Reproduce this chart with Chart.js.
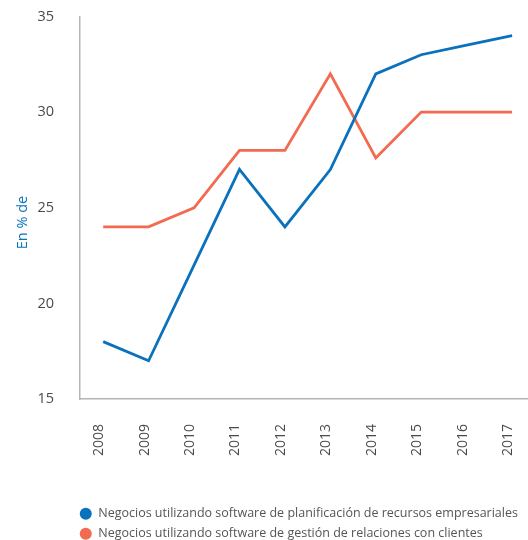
<!DOCTYPE html>
<html><head><meta charset="utf-8">
<script src="https://cdn.jsdelivr.net/npm/chart.js@4"></script>
<style>html,body{margin:0;padding:0;background:#fff}#wrap{width:528px;height:540px}</style>
</head><body><div id="wrap"><canvas id="c" width="528" height="540"></canvas></div>
<script>
const years = [2008, 2009, 2010, 2011, 2012, 2013, 2014, 2015, 2016, 2017];
const erpValues = [18, 17, 22, 27, 24, 27, 32, 33, 33.5, 34];
const crmValues = [24, 24, 25, 28, 28, 32, 27.6, 30, 30, 30];
const yTicks = [15, 20, 25, 30, 35];
const seriesNames = [
  'Negocios utilizando software de planificación de recursos empresariales',
  'Negocios utilizando software de gestión de relaciones con clientes'
];
const yTitle = 'En % de';
const BLUE = '#0a72bd', ORANGE = '#f26a50', AXIS = '#b5b5b5', TXT = '#4a4a4a';
const FONT = '"Open Sans", sans-serif';

const titlePlugin = {
  id: 'ytitle',
  afterLayout(chart) {
    const lg = chart.legend;
    lg.left = 72;
    lg.top += 10;
    lg.bottom += 10;
  },
  afterDraw(chart) {
    const ctx = chart.ctx;
    ctx.save();
    ctx.translate(23, 222.5);
    ctx.rotate(-Math.PI / 2);
    ctx.fillStyle = BLUE;
    ctx.font = '14.5px ' + FONT;
    ctx.textAlign = 'center';
    ctx.textBaseline = 'middle';
    ctx.fillText(yTitle, 0, 0);
    ctx.restore();
  }
};

new Chart(document.getElementById('c'), {
  type: 'line',
  data: {
    datasets: [
      { label: seriesNames[0], data: years.map((y, i) => ({x: y, y: erpValues[i]})),
        borderColor: BLUE, backgroundColor: BLUE, borderWidth: 2.8, pointRadius: 0, tension: 0 },
      { label: seriesNames[1], data: years.map((y, i) => ({x: y, y: crmValues[i]})),
        borderColor: ORANGE, backgroundColor: ORANGE, borderWidth: 2.8, pointRadius: 0, tension: 0 }
    ]
  },
  options: {
    responsive: false,
    animation: false,
    layout: { padding: { top: 16.5, left: 0, right: 0, bottom: 0 } },
    scales: {
      x: {
        type: 'linear', min: 2007.49, max: 2017.35,
        grid: { display: false },
        border: { display: true, color: AXIS, width: 1.5 },
        afterBuildTicks: s => { s.ticks = years.map(v => ({ value: v })); },
        afterFit: s => { s.height = 91; s.paddingLeft = 0; s.paddingRight = 0; },
        ticks: { minRotation: 90, maxRotation: 90, padding: 17, labelOffset: -4, color: TXT,
          font: { family: FONT, size: 14 }, callback: v => String(v) }
      },
      y: {
        min: 15, max: 35,
        grid: { display: false },
        border: { display: true, color: AXIS, width: 1.5 },
        afterBuildTicks: s => { s.ticks = yTicks.map(v => ({ value: v })); },
        afterFit: s => { s.width = 80; s.paddingTop = 0; s.paddingBottom = 0; },
        ticks: { padding: 18, color: TXT, font: { family: FONT, size: 14.5 } }
      }
    },
    plugins: {
      tooltip: { enabled: false },
      legend: {
        position: 'bottom', align: 'start',
        labels: {
          usePointStyle: true, pointStyle: 'circle', boxWidth: 14, boxHeight: 8.5,
          padding: 7.5, color: '#555', font: { family: FONT, size: 12.5 },
          generateLabels: chart => Chart.defaults.plugins.legend.labels.generateLabels(chart)
            .map(l => Object.assign(l, { lineWidth: 0 }))
        }
      }
    }
  },
  plugins: [titlePlugin]
});
</script></body></html>
